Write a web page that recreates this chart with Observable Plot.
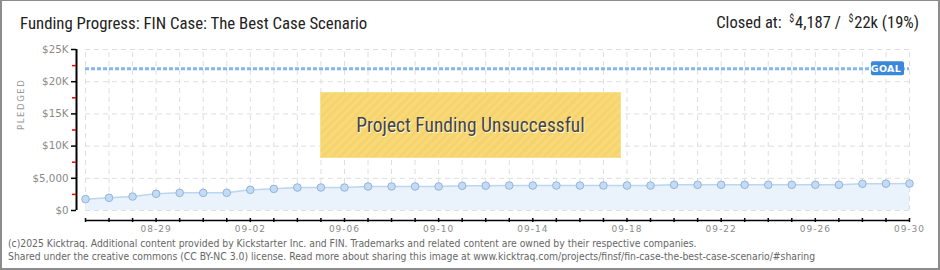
<!DOCTYPE html>
<html><head><meta charset="utf-8">
<script src="https://cdn.jsdelivr.net/npm/d3@7"></script>
<script src="https://cdn.jsdelivr.net/npm/@observablehq/plot@0.6"></script>
<style>
html,body{margin:0;padding:0;background:#fff;}
#wrap{position:relative;width:940px;height:270px;overflow:hidden;background:#fff;}
#wrap svg{position:absolute;left:0;top:0;}
#border{position:absolute;left:0;top:0;width:940px;height:270px;box-sizing:border-box;border:1px solid #8c8c8c;border-left-width:2px;border-right-width:2px;border-bottom-width:2px;pointer-events:none;}
.cond{font-family:"Liberation Sans Narrow","Roboto Condensed","DejaVu Sans Condensed",sans-serif;}
#title{position:absolute;left:20px;top:13px;font-size:16.8px;line-height:20px;color:#222;white-space:nowrap;}
#closed{position:absolute;right:21px;top:13px;font-size:16.5px;line-height:20px;color:#222;white-space:nowrap;}
#closed sup{font-size:10px;vertical-align:6px;line-height:0;margin-right:1px;}
#fail{position:absolute;left:320px;top:92px;width:301px;height:66px;box-sizing:border-box;
  background:repeating-linear-gradient(135deg,#f8d877 0 3px,#f5d470 3px 6px);
  border:1px solid #f9e08e;display:flex;align-items:center;justify-content:center;
  font-size:19.5px;color:#444;text-shadow:1px 1px 0 #fff8dc;}
#footer{position:absolute;left:8px;top:237px;font-family:"DejaVu Sans Condensed","Liberation Sans Narrow",sans-serif;font-size:10.3px;line-height:13px;color:#666;white-space:nowrap;}
</style>
</head><body>
<div id="wrap">
  <div id="title" class="cond">Funding Progress: FIN Case: The Best Case Scenario</div>
  <div id="closed" class="cond">Closed at:&nbsp; <sup>$</sup>4,187 /&nbsp; <sup>$</sup>22k (19%)</div>
  <div id="footer">(c)2025 Kicktraq. Additional content provided by Kickstarter Inc. and FIN. Trademarks and related content are owned by their respective companies.<br>Shared under the creative commons (CC BY-NC 3.0) license. Read more about sharing this image at www.kicktraq.com/projects/finsf/fin-case-the-best-case-scenario/#sharing</div>
</div>
<script>
const dates = ["2025-08-26","2025-08-27","2025-08-28","2025-08-29","2025-08-30","2025-08-31","2025-09-01","2025-09-02","2025-09-03","2025-09-04","2025-09-05","2025-09-06","2025-09-07","2025-09-08","2025-09-09","2025-09-10","2025-09-11","2025-09-12","2025-09-13","2025-09-14","2025-09-15","2025-09-16","2025-09-17","2025-09-18","2025-09-19","2025-09-20","2025-09-21","2025-09-22","2025-09-23","2025-09-24","2025-09-25","2025-09-26","2025-09-27","2025-09-28","2025-09-29","2025-09-30"];
const pledged = [1760,1970,2170,2590,2740,2740,2750,3210,3360,3570,3570,3570,3730,3730,3730,3730,3830,3850,3880,3880,3880,3880,3880,3880,3880,3990,3990,3990,3990,3990,3990,3990,3990,4150,4170,4187];
const goal = 22000;
const yTicks = [0,5000,10000,15000,20000,25000];
const yTickLabels = ["$0","$5,000","$10K","$15K","$20K","$25K"];
const yMinorTicks = [2500,7500,12500,17500,22500];
const xLabelDates = ["2025-08-29","2025-09-02","2025-09-06","2025-09-10","2025-09-14","2025-09-18","2025-09-22","2025-09-26","2025-09-30"];
const yAxisTitle = "PLEDGED";
const goalLabel = "GOAL";
const failText = "Project Funding Unsuccessful";

const toDate = s => new Date(s + "T00:00:00Z");
const data = dates.map((d, i) => ({date: toDate(d), value: pledged[i]}));
const allDates = data.map(d => d.date);
const first = allDates[0], last = allDates[allDates.length - 1];
const labelDates = xLabelDates.map(toDate);
const fmt = d3.utcFormat("%m-%d");

const chart = Plot.plot({
  width: 940, height: 270,
  marginLeft: 76, marginRight: 31, marginTop: 49, marginBottom: 60,
  style: {fontFamily: "DejaVu Sans, sans-serif", fontSize: "9px", background: "transparent", color: "#888"},
  x: {type: "utc", domain: [first, last], insetLeft: 9, label: null},
  y: {domain: [0, 25000], label: null},
  marks: [
    Plot.ruleX(allDates, {x: d => d, y1: 0, y2: 25000, stroke: "#dedede", strokeDasharray: "5,4"}),
    Plot.ruleY(yTicks, {y: d => d, x1: first, x2: last, stroke: "#dedede", strokeDasharray: "5,4"}),
    Plot.areaY(data, {x: "date", y: "value", fill: "#eaf2fc"}),
    Plot.lineY(data, {x: "date", y: "value", stroke: "#bcd6f2", strokeWidth: 1.5}),
    Plot.ruleY([goal], {y: d => d, x1: first, x2: last, stroke: "#86b6ea", strokeWidth: 3, strokeDasharray: "4,2"}),
    Plot.rect([goal], {x1: allDates[allDates.length - 3], x2: last, y1: d => d - 1090, y2: d => d + 1090, insetLeft: 9, insetRight: 5, fill: "#3a88d9", rx: 2}),
    Plot.text([goalLabel], {x: allDates[allDates.length - 2], y: goal, fill: "#fff", fontSize: 9.5, fontWeight: "bold", dx: 0, dy: 0.5}),
    Plot.dot(data, {x: "date", y: "value", r: 3.8, fill: "#c3dbf5", stroke: "#93b3d9", strokeWidth: 1}),
    Plot.ruleX([first], {y1: 0, y2: 25000, dx: -9, stroke: "#000", strokeWidth: 2}),
    Plot.axisY(yTicks, {tickSize: 5, tickPadding: 3, stroke: "#000", strokeWidth: 1.5, fill: "#8a8a8a", fontSize: 10.3,
      tickFormat: v => yTickLabels[yTicks.indexOf(v)]}),
    Plot.axisY(yMinorTicks, {tickSize: 4, stroke: "#e00", strokeWidth: 1.5, tickFormat: () => ""}),
    Plot.text([yAxisTitle], {frameAnchor: "left", rotate: -90, dx: -55, fill: "#999", fontSize: 8.5}),
    Plot.ruleY([0], {x1: first, x2: last, dy: 10, stroke: "#000", strokeWidth: 1.5}),
    Plot.axisX(allDates, {tickSize: 4, dy: 8, stroke: "#000", strokeWidth: 1.5, tickFormat: () => ""}),
    Plot.axisX(labelDates, {tickSize: 0, tickPadding: 15, fill: "#8a8a8a", fontSize: 9, tickFormat: fmt})
  ]
});
const wrap = document.getElementById("wrap");
wrap.insertBefore(chart, wrap.firstChild);
d3.select(chart).selectAll("text").filter(function(){ return this.textContent === yAxisTitle; }).attr("letter-spacing", 1.6);
d3.select(chart).selectAll("text").filter(function(){ return this.textContent === goalLabel; }).attr("letter-spacing", 0.3);
d3.select(chart).selectAll("text").filter(function(){ return /^\d\d-\d\d$/.test(this.textContent); }).attr("letter-spacing", 1);
const fail = document.createElement("div");
fail.id = "fail"; fail.className = "cond"; fail.textContent = failText;
wrap.appendChild(fail);
const border = document.createElement("div");
border.id = "border";
wrap.appendChild(border);
</script>
</body></html>
